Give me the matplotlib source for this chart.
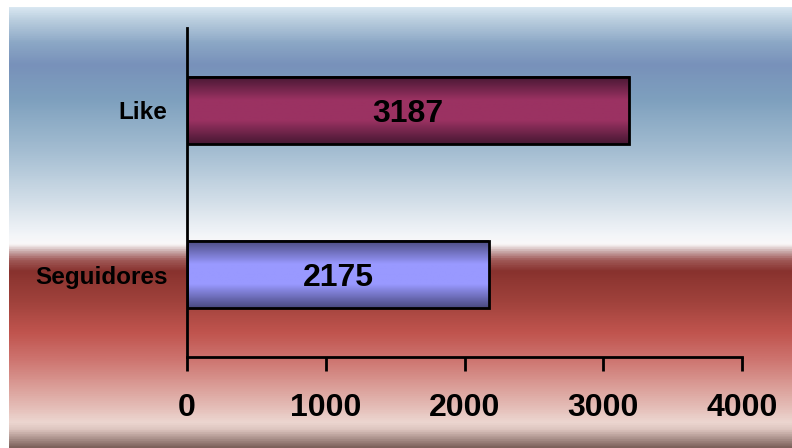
import numpy as np
import matplotlib
matplotlib.use("Agg")
import matplotlib.pyplot as plt
from matplotlib.colors import LinearSegmentedColormap

categories = ["Seguidores", "Like"]
values = [2175, 3187]
xticks = [0, 1000, 2000, 3000, 4000]

W, H = 792, 448
fig = plt.figure(figsize=(W / 100, H / 100), dpi=100)
fig.patch.set_facecolor("white")

# background gradient (stops: fraction from top of bg area, rgb)
stops = [
    (0.00, (218, 232, 242)),
    (0.03, (185, 205, 222)),
    (0.08, (140, 168, 198)),
    (0.13, (120, 145, 186)),
    (0.21, (126, 160, 190)),
    (0.33, (165, 190, 210)),
    (0.44, (210, 222, 232)),
    (0.52, (244, 246, 249)),
    (0.540, (250, 248, 248)),
    (0.555, (205, 175, 175)),
    (0.575, (160, 90, 88)),
    (0.600, (136, 50, 46)),
    (0.67, (160, 66, 60)),
    (0.74, (192, 84, 78)),
    (0.80, (205, 115, 110)),
    (0.87, (220, 162, 156)),
    (0.945, (236, 214, 208)),
    (0.96, (222, 198, 192)),
    (1.00, (125, 98, 92)),
]
cmap_bg = LinearSegmentedColormap.from_list(
    "bg", [(p, tuple(c / 255 for c in col)) for p, col in stops])
top_px, left_px = 7, 9
bgax = fig.add_axes([left_px / W, 0, 1 - left_px / W, 1 - top_px / H], zorder=0)
grad = np.linspace(0, 1, 500).reshape(-1, 1)
bgax.imshow(grad, aspect="auto", cmap=cmap_bg, extent=[0, 1, 0, 1], origin="upper")
bgax.axis("off")

ax = fig.add_axes([187 / W, (H - 357) / H, (742 - 187) / W, (357 - 28) / H], zorder=1)
ax.patch.set_alpha(0)

bar_h = 0.41
inner = {"Seguidores": ((74, 74, 128), (153, 153, 255)),
         "Like": ((72, 24, 52), (155, 50, 98))}
ypos = np.arange(len(categories))
for y, cat, v in zip(ypos, categories, values):
    edge, mid = inner[cat]
    cm = LinearSegmentedColormap.from_list(
        "b" + cat, [tuple(c / 255 for c in edge), tuple(c / 255 for c in mid),
                    tuple(c / 255 for c in mid), tuple(c / 255 for c in edge)])
    g = np.concatenate([np.linspace(0, 0.35, 30), np.linspace(0.35, 0.65, 20),
                        np.linspace(0.65, 1, 30)]).reshape(-1, 1)
    ax.imshow(g, aspect="auto", cmap=cm, extent=[0, v, y - bar_h / 2, y + bar_h / 2],
              origin="upper", zorder=2)
    ax.barh(y, v, height=bar_h, facecolor="none", edgecolor="black", linewidth=2, zorder=3)
    ax.text(v / 2, y, str(v), ha="center", va="center_baseline", fontsize=23,
            fontweight="bold", family="Liberation Sans", zorder=4)

ax.set_xlim(0, 4000)
ax.set_ylim(-0.5, 1.5)
ax.set_xticks(xticks)
ax.set_xticklabels([str(t) for t in xticks], fontsize=23, fontweight="bold",
                   family="Liberation Sans")
ax.set_yticks(ypos)
ax.set_yticklabels(categories, fontsize=17.5, fontweight="bold", family="Liberation Sans")
ax.tick_params(axis="x", length=10, width=2, pad=16, direction="out")
ax.tick_params(axis="y", length=0, pad=14)
for s in ["top", "right"]:
    ax.spines[s].set_visible(False)
ax.spines["left"].set_linewidth(2)
ax.spines["bottom"].set_linewidth(2)

fig.savefig("out.png", dpi=100)
